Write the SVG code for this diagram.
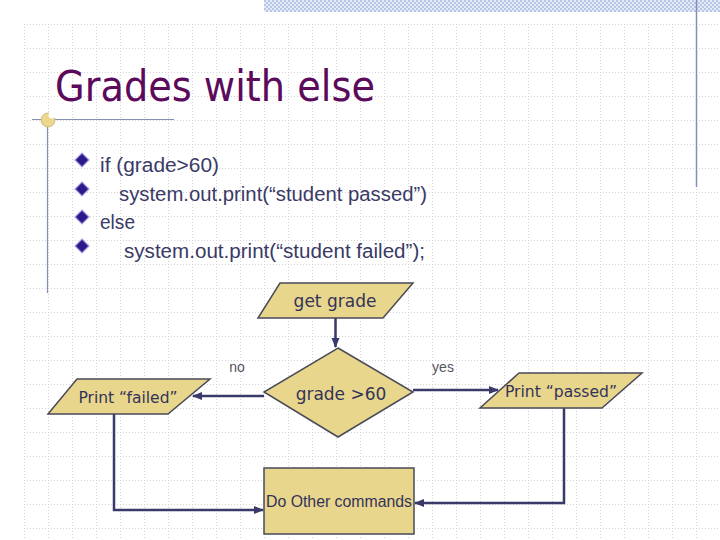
<svg xmlns="http://www.w3.org/2000/svg" width="720" height="540" viewBox="0 0 720 540">
<defs>
<pattern id="grid" x="0" y="0" width="24" height="24" patternUnits="userSpaceOnUse">
<path d="M0 0.5H24M0.5 0V24" stroke="#d2d2d8" stroke-width="1" stroke-dasharray="1 2" fill="none"/>
</pattern>
<pattern id="hatch" x="0" y="0" width="4" height="4" patternUnits="userSpaceOnUse">
<rect width="4" height="4" fill="#e4eaf6"/>
<rect width="2" height="2" fill="#b8c6e6"/>
<rect x="2" y="2" width="2" height="2" fill="#b8c6e6"/>
</pattern>
<marker id="arr" viewBox="0 0 10 10" refX="9" refY="5" markerWidth="4" markerHeight="4" orient="auto" markerUnits="strokeWidth">
<path d="M0 1L10 5L0 9z" fill="#3a3a6a"/>
</marker>
</defs>
<style>
.shape{fill:#e8d68c;stroke:#4a4a58;stroke-width:1.5}
.lbl{font-family:"DejaVu Sans","Liberation Sans",sans-serif;fill:#33335a;text-anchor:middle}
.code{font-family:"Liberation Sans","DejaVu Sans",sans-serif;font-size:20px;fill:#3a3a66}
.yn{font-family:"Liberation Sans",sans-serif;font-size:14px;fill:#555560;text-anchor:middle}
.conn{fill:none;stroke:#3a3a6a;stroke-width:2.5}
.bul{fill:#2a1a8c;stroke:#a8a0dc;stroke-width:1.2}
</style>
<rect width="720" height="540" fill="#ffffff"/>
<rect x="24" y="24" width="696" height="516" fill="url(#grid)"/>
<rect x="264" y="0" width="456" height="12" fill="url(#hatch)"/>
<line x1="696.5" y1="0" x2="696.5" y2="187" stroke="#8290b4" stroke-width="1.5"/>
<line x1="32" y1="119.5" x2="174" y2="119.5" stroke="#8290b4" stroke-width="1.2"/>
<line x1="47.5" y1="119" x2="47.5" y2="293" stroke="#8290b4" stroke-width="1.2"/>
<circle cx="48" cy="120" r="7" fill="#ecd88c" stroke="#c8b070" stroke-width="0.8"/>
<circle cx="52" cy="115" r="3.5" fill="#ffffff"/>
<text x="55" y="101" font-family="'DejaVu Sans','Liberation Sans',sans-serif" font-size="42" fill="#5c0a5c" textLength="320" lengthAdjust="spacingAndGlyphs">Grades with else</text>
<g id="bullets">
<path class="bul" d="M82 153L89 160L82 167L75 160z"/>
<path class="bul" d="M82 182L89 189L82 196L75 189z"/>
<path class="bul" d="M82 210L89 217L82 224L75 217z"/>
<path class="bul" d="M82 239L89 246L82 253L75 246z"/>
</g>
<g id="code">
<text class="code" x="100" y="172" textLength="119" lengthAdjust="spacingAndGlyphs">if (grade&gt;60)</text>
<text class="code" x="119" y="201" textLength="308" lengthAdjust="spacingAndGlyphs">system.out.print(“student passed”)</text>
<text class="code" x="100" y="229" textLength="35" lengthAdjust="spacingAndGlyphs">else</text>
<text class="code" x="124" y="258" textLength="301" lengthAdjust="spacingAndGlyphs">system.out.print(“student failed”);</text>
</g>
<g id="connectors">
<line class="conn" x1="335.5" y1="318" x2="335.5" y2="347" marker-end="url(#arr)"/>
<line class="conn" x1="264" y1="396" x2="193" y2="396" marker-end="url(#arr)"/>
<line class="conn" x1="413" y1="390" x2="498" y2="390" marker-end="url(#arr)"/>
<polyline class="conn" points="114,414 114,510 263,510" marker-end="url(#arr)"/>
<polyline class="conn" points="564,408 564,503 415,503" marker-end="url(#arr)"/>
<text class="yn" x="237" y="372">no</text>
<text class="yn" x="443" y="372">yes</text>
</g>
<g id="get-grade">
<path class="shape" d="M280 283H413L383 318H258z"/>
<text class="lbl" x="335" y="307" font-size="17">get grade</text>
</g>
<g id="decision">
<path class="shape" d="M338 348L413 392L338 437L264 392z"/>
<text class="lbl" x="341" y="400" font-size="17">grade &gt;60</text>
</g>
<g id="print-failed">
<path class="shape" d="M77 379H210L168 414H48z"/>
<text class="lbl" x="128" y="403" font-size="16" textLength="99" lengthAdjust="spacingAndGlyphs">Print “failed”</text>
</g>
<g id="print-passed">
<path class="shape" d="M519 373H642L602 408H480z"/>
<text class="lbl" x="561" y="397" font-size="16" textLength="112" lengthAdjust="spacingAndGlyphs">Print “passed”</text>
</g>
<g id="other">
<rect class="shape" x="264" y="468" width="150" height="66"/>
<text class="lbl" x="339" y="507" font-size="16" font-weight="300" fill="#3a3a58" textLength="146" lengthAdjust="spacingAndGlyphs" style="font-family:'Liberation Sans',sans-serif">Do Other commands</text>
</g>
</svg>
